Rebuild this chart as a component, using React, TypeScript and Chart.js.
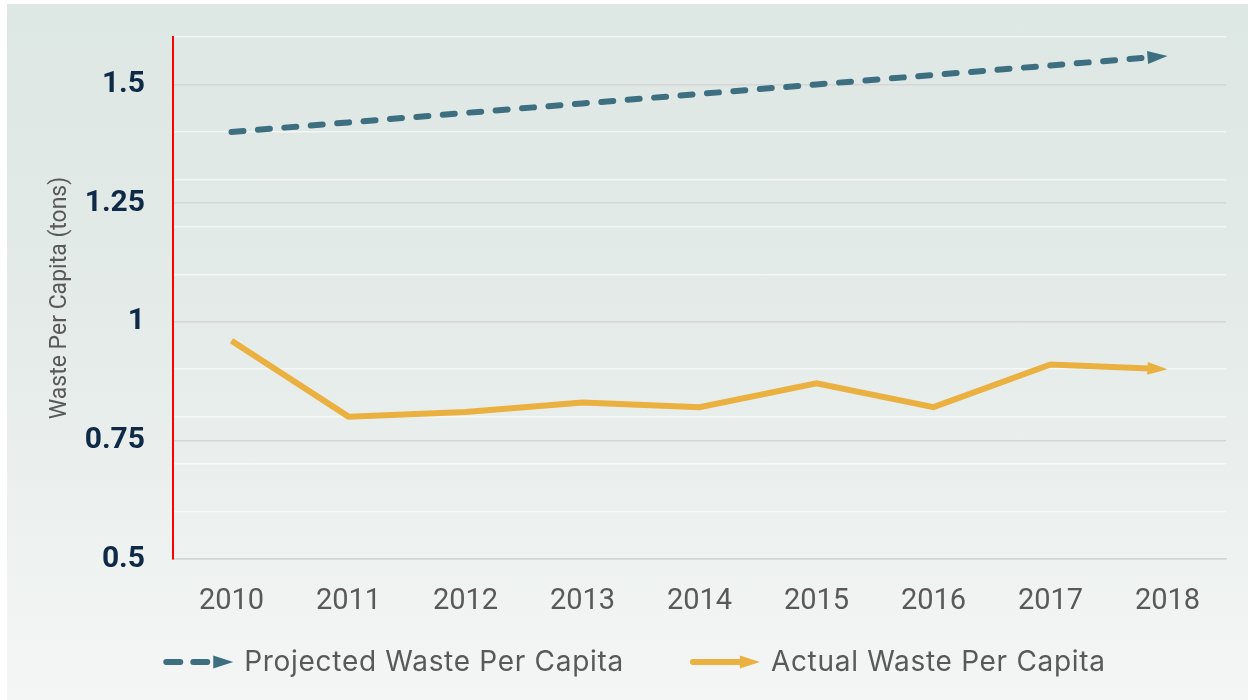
import React, { useEffect, useRef } from "react";
import { Chart, registerables } from "chart.js";

Chart.register(...registerables);

const years = ["2010", "2011", "2012", "2013", "2014", "2015", "2016", "2017", "2018"];
const projectedWaste = [1.4, 1.42, 1.44, 1.46, 1.48, 1.5, 1.52, 1.54, 1.56];
const actualWaste = [0.96, 0.8, 0.81, 0.83, 0.82, 0.87, 0.82, 0.91, 0.9];
const seriesNames = ["Projected Waste Per Capita", "Actual Waste Per Capita"];
const seriesColors = ["#3d6f81", "#eab040"];
const yLabelTicks = [0.5, 0.75, 1, 1.25, 1.5];
const yMinorGrid = [0.5, 0.6, 0.7, 0.8, 0.9, 1.0, 1.1, 1.2, 1.3, 1.4, 1.5, 1.6];
const yTitle = "Waste Per Capita (tons)";

const isIn = (list: number[], v: number) => list.some((x) => Math.abs(x - v) < 1e-9);

const ARROW_LEN = 20;
const ARROW_HALF = 6.5;

function drawTriangle(ctx: CanvasRenderingContext2D, tx: number, ty: number, ang: number, color: string) {
  const dx = Math.cos(ang), dy = Math.sin(ang);
  const bx = tx - dx * ARROW_LEN, by = ty - dy * ARROW_LEN;
  const nx = -dy, ny = dx;
  ctx.beginPath();
  ctx.moveTo(tx, ty);
  ctx.lineTo(bx + nx * ARROW_HALF, by + ny * ARROW_HALF);
  ctx.lineTo(bx - nx * ARROW_HALF, by - ny * ARROW_HALF);
  ctx.closePath();
  ctx.fillStyle = color;
  ctx.fill();
}

function lastAngle(meta: any) {
  const pts = meta.data;
  const a = pts[pts.length - 2], b = pts[pts.length - 1];
  return { tip: b, ang: Math.atan2(b.y - a.y, b.x - a.x) };
}

const arrowPlugin = {
  id: "arrowHeads",
  beforeDatasetDraw(chart: any, args: any) {
    const meta = args.meta;
    const ctx = chart.ctx;
    const { tip, ang } = lastAngle(meta);
    const dx = Math.cos(ang), dy = Math.sin(ang);
    const bx = tip.x - dx * (ARROW_LEN - 1), by = tip.y - dy * (ARROW_LEN - 1);
    const nx = -dy, ny = dx;
    const B = 5000;
    ctx.save();
    ctx.beginPath();
    ctx.moveTo(bx + nx * B, by + ny * B);
    ctx.lineTo(bx - nx * B, by - ny * B);
    ctx.lineTo(bx - nx * B - dx * B, by - ny * B - dy * B);
    ctx.lineTo(bx + nx * B - dx * B, by + ny * B - dy * B);
    ctx.closePath();
    ctx.clip();
  },
  afterDatasetDraw(chart: any, args: any) {
    const ctx = chart.ctx;
    ctx.restore();
    const meta = args.meta;
    const { tip, ang } = lastAngle(meta);
    drawTriangle(ctx, tip.x, tip.y, ang, seriesColors[args.index]);
  },
};

const legendPlugin = {
  id: "customLegend",
  afterDraw(chart: any) {
    const ctx: any = chart.ctx;
    ctx.save();
    ctx.font = "28px Inter";
    ctx.letterSpacing = "0.7px";
    const sampleW = 70;
    const gap = 11;
    const spacing = 66;
    const widths = seriesNames.map((n) => ctx.measureText(n).width);
    const total = widths.reduce((s: number, w: number) => s + sampleW + gap + w, 0) + spacing * (seriesNames.length - 1);
    let x = 627.5 - total / 2;
    const cy = 658;
    seriesNames.forEach((name, i) => {
      const color = seriesColors[i];
      ctx.strokeStyle = color;
      ctx.lineWidth = 6;
      ctx.lineCap = "round";
      ctx.beginPath();
      if (i === 0) {
        ctx.moveTo(x + 3, cy);
        ctx.lineTo(x + 17, cy);
        ctx.moveTo(x + 30, cy);
        ctx.lineTo(x + 44, cy);
      } else {
        ctx.moveTo(x + 3, cy);
        ctx.lineTo(x + 50, cy);
      }
      ctx.stroke();
      drawTriangle(ctx, x + sampleW, cy, 0, color);
      ctx.fillStyle = "#595959";
      ctx.textAlign = "left";
      ctx.textBaseline = "middle";
      ctx.fillText(name, x + sampleW + gap, cy + 1);
      x += sampleW + gap + widths[i] + spacing;
    });
    ctx.restore();
  },
};

export default function App() {
  const canvasRef = useRef<HTMLCanvasElement | null>(null);

  useEffect(() => {
    if (!canvasRef.current) return;
    const allTicks = Array.from(new Set([...yMinorGrid, ...yLabelTicks])).sort((a, b) => a - b);
    const chart = new Chart(canvasRef.current, {
      type: "line",
      data: {
        labels: years,
        datasets: [
          {
            label: seriesNames[0],
            data: projectedWaste,
            borderColor: seriesColors[0],
            borderWidth: 6,
            borderDash: [12, 14.5],
            borderCapStyle: "round",
            pointRadius: 0,
            tension: 0,
            fill: false,
          },
          {
            label: seriesNames[1],
            data: actualWaste,
            borderColor: seriesColors[1],
            borderWidth: 6,
            borderCapStyle: "butt",
            borderJoinStyle: "miter",
            pointRadius: 0,
            tension: 0,
            fill: false,
          },
        ],
      },
      options: {
        responsive: false,
        animation: false,
        events: [],
        layout: { padding: { left: 0, right: 22, top: 33, bottom: 0 } },
        plugins: {
          legend: { display: false },
          tooltip: { enabled: false },
        },
        scales: {
          x: {
            offset: true,
            grid: { display: false, drawTicks: false },
            border: { display: true, color: "#d6d6d6", width: 1.5 },
            ticks: {
              padding: 25,
              color: "#595959",
              font: { family: "Roboto", size: 29 },
              maxRotation: 0,
            },
            afterFit(scale: any) {
              scale.height = 141;
            },
          },
          y: {
            min: 0.5,
            max: 1.6,
            afterBuildTicks(scale: any) {
              scale.ticks = allTicks.map((v) => ({ value: v }));
            },
            afterFit(scale: any) {
              scale.width = 166;
              scale.paddingTop = 0;
              scale.paddingBottom = 0;
            },
            grid: {
              drawTicks: false,
              lineWidth: 1.5,
              color: (c: any) =>
                c.tick && isIn(yLabelTicks, c.tick.value) ? "#d6d6d6" : "rgba(255,255,255,0.6)",
            },
            border: { display: true, color: "#ff0000", width: 2 },
            ticks: {
              autoSkip: false,
              padding: 28,
              color: "#0f2a47",
              font: { family: "Roboto", size: 30, weight: "bold" },
              callback: (v: any) => (isIn(yLabelTicks, Number(v)) ? String(Number(v)) : ""),
            },
            title: {
              display: true,
              text: yTitle,
              color: "#595959",
              font: { family: "Roboto", size: 23 },
              padding: { top: 39, bottom: 0 },
            },
          },
        },
      },
      plugins: [arrowPlugin, legendPlugin],
    });
    return () => chart.destroy();
  }, []);

  return (
    <div
      style={{
        position: "absolute",
        left: 7,
        top: 4,
        width: 1241,
        height: 696,
        background: "linear-gradient(to bottom, #dde7e3 0%, #e4ebe8 45%, #f4f6f5 100%)",
      }}
    >
      <canvas ref={canvasRef} width={1241} height={696} style={{ display: "block" }} />
    </div>
  );
}
